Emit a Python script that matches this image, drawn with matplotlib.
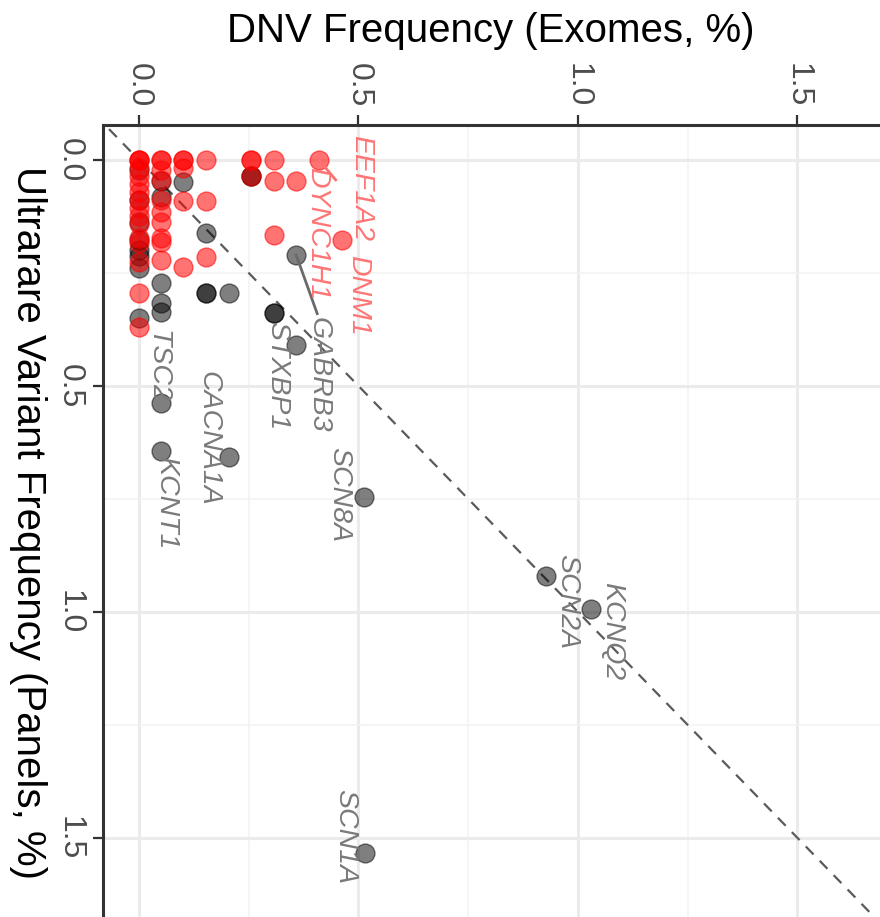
import matplotlib.pyplot as plt

plt.rcParams['font.family'] = ['Liberation Sans', 'DejaVu Sans']

# DNV frequency in exomes (x) and ultrarare variant frequency in panels (y), both in %
# red genes (enriched in exomes)
red_x = [0, 0, 0, 0, 0, 0, 0, 0, 0, 0, 0, 0, 0, 0, 0, 0,
         0.05, 0.05, 0.05, 0.05, 0.05, 0.05, 0.05, 0.05, 0.05, 0.05,
         0.1, 0.1, 0.1, 0.1, 0.1,
         0.153, 0.153, 0.153,
         0.256, 0.256, 0.256,
         0.307, 0.307, 0.307,
         0.358, 0.41, 0.462]
red_y = [0, 0, 0, 0.018, 0.035, 0.053, 0.071, 0.088, 0.106, 0.124, 0.142, 0.173, 0.184, 0.226, 0.294, 0.369,
         0, 0, 0.022, 0.044, 0.088, 0.115, 0.137, 0.173, 0.181, 0.221,
         0, 0, 0.018, 0.091, 0.237,
         0, 0.091, 0.215,
         0, 0, 0.035,
         0, 0.046, 0.166,
         0.046, 0, 0.177]

# grey genes
grey_x = [0, 0, 0, 0, 0, 0, 0, 0,
          0.05, 0.05, 0.05, 0.05, 0.05, 0.05, 0.05,
          0.1,
          0.153, 0.153, 0.153,
          0.205, 0.205,
          0.256, 0.256,
          0.307, 0.307,
          0.358, 0.358,
          0.513, 0.927, 1.03, 0.515]
grey_y = [0.022, 0.088, 0.137, 0.177, 0.199, 0.212, 0.239, 0.350,
          0.046, 0.082, 0.272, 0.316, 0.336, 0.538, 0.644,
          0.049,
          0.162, 0.294, 0.294,
          0.294, 0.657,
          0.035, 0.035,
          0.338, 0.338,
          0.21, 0.409,
          0.746, 0.920, 0.993, 1.533]

# gene labels
label_genes = ['EEF1A2', 'DYNC1H1', 'DNM1', 'GABRB3', 'STXBP1', 'TSC2',
               'CACNA1A', 'KCNT1', 'SCN8A', 'SCN2A', 'KCNQ2', 'SCN1A']
label_x = [0.506, 0.406, 0.499, 0.408, 0.314, 0.041, 0.159, 0.062, 0.456, 0.975, 1.077, 0.469]
label_y = [0.062, 0.162, 0.300, 0.476, 0.478, 0.456, 0.617, 0.759, 0.741, 0.976, 1.042, 1.498]
label_red = [True, True, True, False, False, False, False, False, False, False, False, False]
# segments from point to label
seg_x0 = [0.41, 0.358]
seg_y0 = [0.0, 0.21]
seg_x1 = [0.448, 0.406]
seg_y1 = [0.044, 0.34]
seg_col = ['#ff7070', '#6a6a6a']

fig = plt.figure(figsize=(8.8, 9.17), dpi=100)
ax = fig.add_axes([103 / 880, 0, 1 - 103 / 880, 1 - 125 / 917])

ax.set_xlim(-0.082, 1.688)
ax.set_ylim(1.675, -0.0774)

# grid like ggplot theme_bw
ax.set_xticks([0, 0.5, 1.0, 1.5])
ax.set_yticks([0, 0.5, 1.0, 1.5])
ax.set_xticks([0.25, 0.75, 1.25], minor=True)
ax.set_yticks([0.25, 0.75, 1.25], minor=True)
ax.grid(which='major', color='#ebebeb', lw=2.2, zorder=0)
ax.grid(which='minor', color='#f2f2f2', lw=1.1, zorder=0)
ax.set_axisbelow(True)

# identity line
ax.plot([-0.1, 1.8], [-0.1, 1.8], ls=(0, (5, 4)), color='#5a5a5a', lw=1.6, zorder=1)

ax.scatter(grey_x, grey_y, s=185, c='black', edgecolors='black', linewidths=1.0, alpha=0.5, zorder=2)
ax.scatter(red_x, red_y, s=185, c='red', edgecolors='red', linewidths=1.0, alpha=0.55, zorder=3)

for i in range(len(seg_x0)):
    ax.plot([seg_x0[i], seg_x1[i]], [seg_y0[i], seg_y1[i]], color=seg_col[i], lw=2, zorder=4)

for i, g in enumerate(label_genes):
    col = '#ff7575' if label_red[i] else '#7a7a7a'
    ax.text(label_x[i], label_y[i], g, rotation=-90, ha='center', va='center',
            fontsize=20.5, fontstyle='italic', color=col, zorder=5)

# axes on top / left, text rotated
ax.xaxis.set_ticks_position('top')
ax.xaxis.set_label_position('top')
ax.tick_params(which='major', length=7, width=1.6, color='#333333', labelsize=23,
               labelcolor='#4d4d4d', pad=6)
ax.tick_params(which='minor', length=0)
ax.set_xticklabels(['0.0', '0.5', '1.0', '1.5'], rotation=-90)
ax.set_yticklabels(['0.0', '0.5', '1.0', '1.5'], rotation=-90, va='center')
for lab in ax.get_xticklabels():
    lab.set_ha('center')

ax.set_xlabel('DNV Frequency (Exomes, %)', fontsize=29, va='center')
ax.xaxis.set_label_coords(0.4995, 1 + 94 / 792)
ax.set_ylabel('Ultrarare Variant Frequency (Panels, %)', fontsize=29, rotation=-90, va='center')
ax.yaxis.set_label_coords(-75 / 777, 0.4987)

for side in ['right', 'bottom']:
    ax.spines[side].set_visible(False)
for side in ['left', 'top']:
    ax.spines[side].set_color('#333333')
    ax.spines[side].set_linewidth(2.2)

fig.savefig('out.png', dpi=100)
